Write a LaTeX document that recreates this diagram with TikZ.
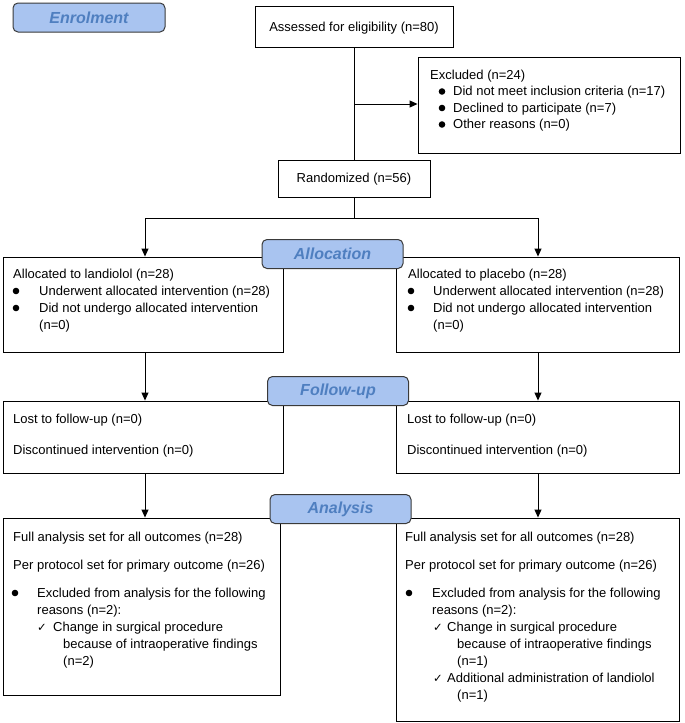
\documentclass[tikz,border=0pt]{standalone}
\usepackage{fontspec}
\setmainfont{Liberation Sans}
\newfontfamily\symfont{DejaVu Sans}
\usetikzlibrary{arrows.meta}
\definecolor{lblfill}{HTML}{A9C4F0}
\definecolor{lbltext}{HTML}{4F7FC0}
\definecolor{lbldraw}{HTML}{3A3A3A}
\begin{document}
\begin{tikzpicture}[x=1pt,y=-1pt,
 box/.style={draw=black,line width=0.9pt,fill=white,rectangle,inner sep=0pt},
 lbl/.style={draw=lbldraw,line width=1pt,fill=lblfill,rounded corners=5pt,minimum width=141pt,minimum height=29pt,inner sep=0pt,text=lbltext,font=\fontsize{16}{18}\selectfont\bfseries\itshape},
 txt/.style={anchor=base west,inner sep=0pt,font=\fontsize{13}{15}\selectfont},
 ctr/.style={anchor=base,inner sep=0pt,font=\fontsize{13}{15}\selectfont},
 dot/.style={circle,fill=black,inner sep=0pt,minimum size=6.6pt},
 chk/.style={anchor=base west,inner sep=0pt,font=\symfont\fontsize{11.5}{13}\selectfont},
 arr/.style={line width=0.9pt,-{Triangle[length=8pt,width=7pt]}},
 ln/.style={line width=0.9pt}]
\useasboundingbox (0,0) rectangle (685,723);

% ---- boxes ----
\node[box,minimum width=198pt,minimum height=41pt] (assess) at (354,26.5) {};
\node[box,minimum width=262pt,minimum height=96pt] (excl) at (549,105) {};
\node[box,minimum width=152pt,minimum height=37pt] (rand) at (354,178.5) {};
\node[box,minimum width=280pt,minimum height=95pt] (allocL) at (143,304.5) {};
\node[box,minimum width=283pt,minimum height=95pt] (allocR) at (537.5,304.5) {};
\node[box,minimum width=280pt,minimum height=72pt] (fuL) at (143,437) {};
\node[box,minimum width=283pt,minimum height=72pt] (fuR) at (537.5,437) {};
\node[box,minimum width=277pt,minimum height=177pt] (anL) at (141.5,606.5) {};
\node[box,minimum width=283pt,minimum height=203pt] (anR) at (537.5,619.5) {};

% ---- connectors ----
\coordinate (ej) at (354,104);
\coordinate (split) at (354,218);
\coordinate (sl) at (145,218);
\coordinate (sr) at (538,218);
\draw[ln] (assess.south) -- (rand.north);
\draw[arr] (ej) -- (ej -| excl.west);
\draw[ln] (rand.south) -- (split);
\draw[ln] (sl) -- (sr);
\draw[arr] (sl) -- (sl |- allocL.north);
\draw[arr] (sr) -- (sr |- allocR.north);
\draw[arr] (allocL.south -| sl) -- (fuL.north -| sl);
\draw[arr] (allocR.south -| sr) -- (fuR.north -| sr);
\draw[arr] (fuL.south -| sl) -- (anL.north -| sl);
\draw[arr] (fuR.south -| sr) -- (anR.north -| sr);

% ---- stage labels ----
\node[lbl,minimum width=152pt] (lEnrol) at (89,17.5) {Enrolment};
\node[lbl] (lAlloc) at (332.5,254) {Allocation};
\node[lbl] (lFollow) at (338,391) {Follow-up};
\node[lbl] (lAnal) at (340.5,509) {Analysis};

% ---- texts: enrolment ----
\node[ctr] (tAssess) at (354,31) {Assessed for eligibility (n=80)};
\node[ctr] (tRand) at (354,182.5) {Randomized (n=56)};
\node[txt] (tExcl) at (430,79) {Excluded (n=24)};
\node[dot] (dE1) at (442,91.5) {};
\node[txt] (tE1) at (453,95.5) {Did not meet inclusion criteria (n=17)};
\node[dot] (dE2) at (442,108) {};
\node[txt] (tE2) at (453,112) {Declined to participate (n=7)};
\node[dot] (dE3) at (442,124.5) {};
\node[txt] (tE3) at (453,128.5) {Other reasons (n=0)};

% ---- allocation ----
\node[txt] (tAL0) at (13,278) {Allocated to landiolol (n=28)};
\node[dot] (dAL1) at (16,291) {};
\node[txt] (tAL1) at (39,295) {Underwent allocated intervention (n=28)};
\node[dot] (dAL2) at (16,308) {};
\node[txt] (tAL2) at (39,312) {Did not undergo allocated intervention};
\node[txt] (tAL3) at (39,329) {(n=0)};

\node[txt] (tAR0) at (408,278) {Allocated to placebo (n=28)};
\node[dot] (dAR1) at (411,291) {};
\node[txt] (tAR1) at (433,295) {Underwent allocated intervention (n=28)};
\node[dot] (dAR2) at (411,308) {};
\node[txt] (tAR2) at (433,312) {Did not undergo allocated intervention};
\node[txt] (tAR3) at (433,329) {(n=0)};

% ---- follow-up ----
\node[txt] (tFL1) at (13,423) {Lost to follow-up (n=0)};
\node[txt] (tFL2) at (13,454) {Discontinued intervention (n=0)};
\node[txt] (tFR1) at (407,423) {Lost to follow-up (n=0)};
\node[txt] (tFR2) at (407,454) {Discontinued intervention (n=0)};

% ---- analysis left ----
\node[txt] (tNL1) at (13,541) {Full analysis set for all outcomes (n=28)};
\node[txt] (tNL2) at (13,569) {Per protocol set for primary outcome (n=26)};
\node[dot] (dNL) at (15,593) {};
\node[txt] (tNL3) at (37,597) {Excluded from analysis for the following};
\node[txt] (tNL4) at (37,614) {reasons (n=2):};
\node[chk] (cNL1) at (37,631) {✓};
\node[txt] (tNL5) at (53,631) {Change in surgical procedure};
\node[txt] (tNL6) at (63,648) {because of intraoperative findings};
\node[txt] (tNL7) at (63,665) {(n=2)};

% ---- analysis right ----
\node[txt] (tNR1) at (405,541) {Full analysis set for all outcomes (n=28)};
\node[txt] (tNR2) at (405,569) {Per protocol set for primary outcome (n=26)};
\node[dot] (dNR) at (409,593) {};
\node[txt] (tNR3) at (432,597) {Excluded from analysis for the following};
\node[txt] (tNR4) at (432,614) {reasons (n=2):};
\node[chk] (cNR1) at (433,631) {✓};
\node[txt] (tNR5) at (447,631) {Change in surgical procedure};
\node[txt] (tNR6) at (457,648) {because of intraoperative findings};
\node[txt] (tNR7) at (457,665) {(n=1)};
\node[chk] (cNR2) at (433,682) {✓};
\node[txt] (tNR8) at (447,682) {Additional administration of landiolol};
\node[txt] (tNR9) at (457,699) {(n=1)};
\end{tikzpicture}
\end{document}
